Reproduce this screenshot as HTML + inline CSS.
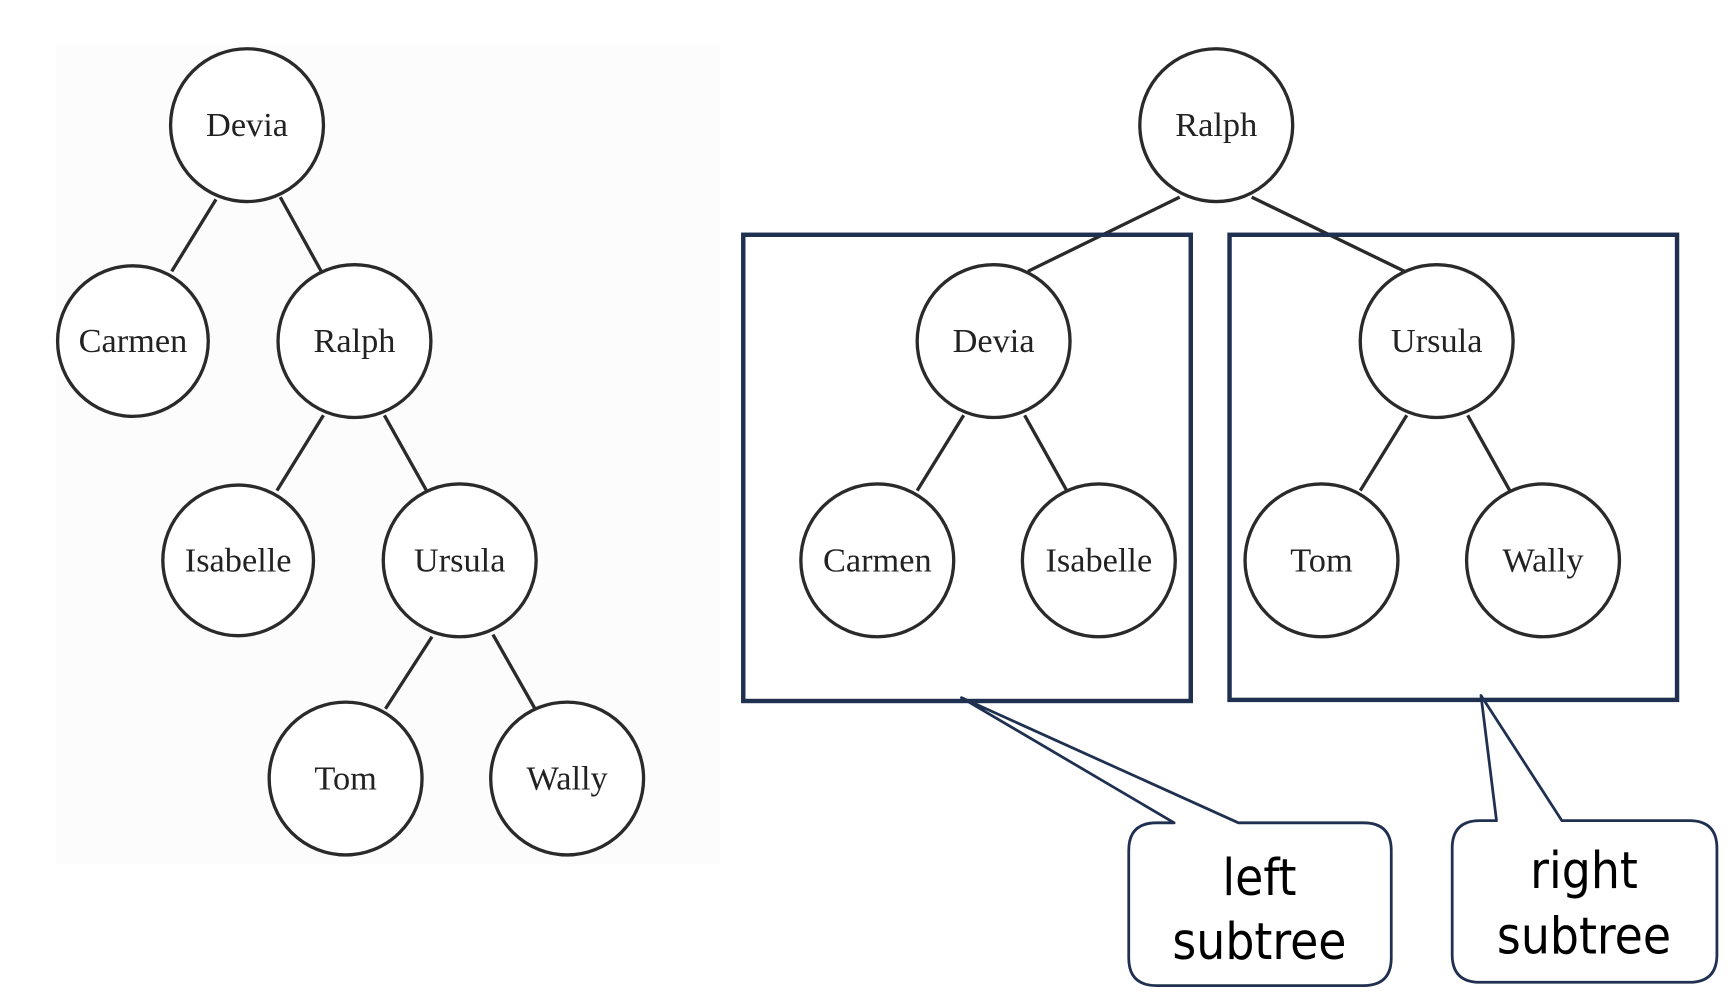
<!DOCTYPE html>
<html><head><meta charset="utf-8"><style>html,body{margin:0;padding:0;background:#fff;width:1728px;height:1000px;overflow:hidden}svg{display:block}</style></head>
<body>
<svg width="1728" height="1000" viewBox="0 0 1560 903" preserveAspectRatio="none" xmlns="http://www.w3.org/2000/svg">
<rect x="50" y="40" width="600" height="740" fill="#fcfcfc"/>
<g stroke="#2a2a2a" stroke-width="3" fill="none">
<line x1="195" y1="180" x2="155" y2="245"/><line x1="253" y1="178" x2="290" y2="245"/>
<line x1="292" y1="375" x2="250" y2="443"/><line x1="347" y1="375" x2="385" y2="443"/>
<line x1="390" y1="575" x2="348" y2="640"/><line x1="445" y1="573" x2="483" y2="640"/>
<line x1="1065" y1="178" x2="928" y2="245"/><line x1="1130" y1="178" x2="1268" y2="245"/>
<line x1="870" y1="375" x2="828" y2="443"/><line x1="925" y1="375" x2="963" y2="443"/>
<line x1="1270" y1="375" x2="1228" y2="443"/><line x1="1325" y1="375" x2="1363" y2="443"/>
</g>
<g stroke="#2a2a2a" stroke-width="3" fill="#fff">
<circle cx="223" cy="113" r="69"/><circle cx="120" cy="308" r="68"/><circle cx="320" cy="308" r="69"/>
<circle cx="215" cy="506" r="68"/><circle cx="415" cy="506" r="69"/><circle cx="312" cy="703" r="69"/><circle cx="512" cy="703" r="69"/>
<circle cx="1098" cy="113" r="69"/><circle cx="897" cy="308" r="69"/><circle cx="1297" cy="308" r="69"/>
<circle cx="792" cy="506" r="69"/><circle cx="992" cy="506" r="69"/><circle cx="1193" cy="506" r="69"/><circle cx="1393" cy="506" r="69"/>
</g>
<g font-family="Liberation Serif, serif" font-size="31" fill="#222" text-anchor="middle">
<text x="223" y="123">Devia</text><text x="120" y="318">Carmen</text><text x="320" y="318">Ralph</text>
<text x="215" y="516">Isabelle</text><text x="415" y="516">Ursula</text><text x="312" y="713">Tom</text><text x="512" y="713">Wally</text>
<text x="1098" y="123">Ralph</text><text x="897" y="318">Devia</text><text x="1297" y="318">Ursula</text>
<text x="792" y="516">Carmen</text><text x="992" y="516">Isabelle</text><text x="1193" y="516">Tom</text><text x="1393" y="516">Wally</text>
</g>
<g stroke="#1f3050" stroke-width="4" fill="none">
<rect x="671" y="212" width="404" height="421"/>
<rect x="1110" y="212" width="404" height="420"/>
</g>
<g stroke="#1f3050" stroke-width="2.5" fill="#fff" stroke-linejoin="round">
<path d="M1044 743 L1060 743 L868 630 L1118 743 L1231 743 Q1256 743 1256 768 L1256 865 Q1256 890 1231 890 L1044 890 Q1019 890 1019 865 L1019 768 Q1019 743 1044 743 Z"/>
<path d="M1336 741 L1351 741 L1337 628 L1410 741 L1525 741 Q1550 741 1550 766 L1550 862 Q1550 887 1525 887 L1336 887 Q1311 887 1311 862 L1311 766 Q1311 741 1336 741 Z"/>
</g>
<g font-family="DejaVu Sans Condensed, Liberation Sans, sans-serif" font-size="46" fill="#000" text-anchor="middle">
<text x="1137" y="808">left</text><text x="1137" y="866">subtree</text>
<text x="1430" y="802">right</text><text x="1430" y="861">subtree</text>
</g>
</svg>
</body></html>
